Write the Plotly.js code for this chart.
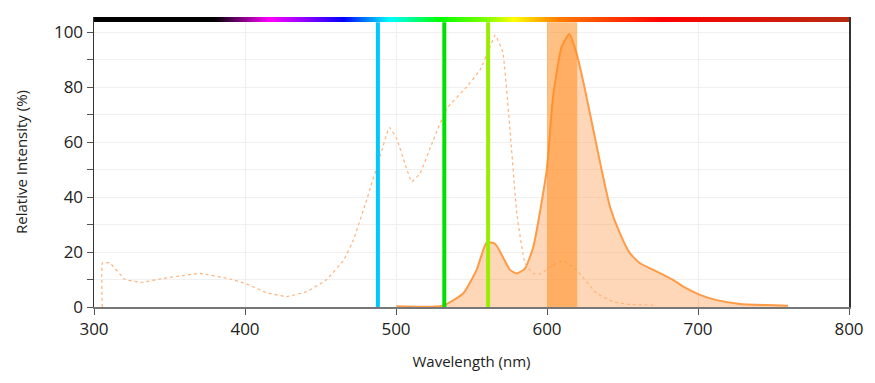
<!DOCTYPE html>
<html><head><meta charset="utf-8">
<script src="https://cdn.plot.ly/plotly-3.0.1.min.js"></script>
<style>html,body{margin:0;padding:0;background:#fff}#chart{width:875px;height:383px}</style>
</head><body><div id="chart"></div>
<script>
// Excitation spectrum (dotted)
const exWl = [305.5,305.6,310.6,320.5,331.5,345.9,370.2,390,401,414.4,427.6,440.9,454.1,465.2,471.8,480,489.4,495.6,500.4,510.4,515.9,524.7,533.6,546.8,555.6,562.3,565.6,570.7,575.5,580,585.4,591,595.4,604.2,610.8,619.6,632.8,643.9,655,670.4];
const exVal = [0,16.1,16,10,9,10.4,12.2,10.2,8.4,5.2,3.8,5.6,10,17,24.4,38,54.7,65.3,61.3,45.6,48.6,60.7,72.2,80.1,86.2,94.7,98.9,92.9,64.4,34,15.9,12.2,12,15.3,16.8,13.5,5,1.9,0.9,0.7];
// Emission spectrum (solid, filled)
const emWl = [500.4,531,544.6,553.4,560,565.6,575.5,580,585.4,591,599.8,604,609.7,614.8,619.6,625.2,636.2,641.7,648.3,655,661.6,670.4,683.7,690.3,701.3,712.4,727.8,745,759.6];
const emVal = [0.3,0.5,5,13.5,23.4,23,13.5,12.2,14,22,49.8,76.5,94.7,99.3,92.2,79,49.8,36.5,26.8,19.5,15.9,13.5,9.8,7.4,4.4,2.5,1.1,0.7,0.5];
// Laser lines
const laserWl = [488,532,561];
const laserColors = ['#00c8ff','#00e000','#99ee00'];
// Emission filter band
const filterBand = [600,620];
// Spectrum bar colour stops
const specStops = [300,380,416,441,465,496,529,560,578,606,640,677,800];
const specColors = ['#000000','#000000','#ff00ff','#8a00ff','#0000ff','#00ffff','#00ff00','#80ff00','#ffff00','#ff8000','#ff4000','#ff0000','#b52a10'];
const xTicks = [300,400,500,600,700,800];
const yTicks = [0,20,40,60,80,100];

const xRange = [300,800], yTop = 105.5, barBottom = 103.6;

const specX = [];
for (let w = xRange[0]; w <= xRange[1]; w += 1) specX.push(w);
const specZ = [specX.slice(0, -1).map(w => w + 0.5)];
const cscale = specStops.map((s,i)=>[(s-xRange[0])/(xRange[1]-xRange[0]), specColors[i]]);

const traces = [
  {type:'heatmap', x:specX, y:[barBottom, yTop], z:specZ, colorscale:cscale, zmin:xRange[0], zmax:xRange[1], showscale:false, hoverinfo:'skip'},
  {type:'scatter', mode:'lines', x:emWl, y:emVal, fill:'tozeroy', fillcolor:'rgba(252,150,70,0.38)', line:{color:'#ff9a45', width:2, shape:'spline', smoothing:0.5}, hoverinfo:'skip'},
  {type:'scatter', mode:'lines', x:exWl, y:exVal, line:{color:'#ffb27a', width:1.2, dash:'dot', shape:'spline', smoothing:0.3}, hoverinfo:'skip'}
];
laserWl.forEach((w,i)=>traces.push({type:'scatter', mode:'lines', x:[w,w], y:[0,barBottom], line:{color:laserColors[i], width:4}, hoverinfo:'skip'}));

const layout = {
  width:875, height:383,
  margin:{l:94, r:26, t:17, b:76},
  paper_bgcolor:'#fff', plot_bgcolor:'#fff',
  showlegend:false,
  font:{family:'"Open Sans", "Noto Sans", sans-serif', color:'#222', size:15},
  shapes:[{type:'rect', xref:'x', yref:'y', x0:filterBand[0], x1:filterBand[1], y0:0, y1:barBottom, fillcolor:'rgba(255,140,30,0.55)', line:{width:0}, layer:'above'}],
  xaxis:{range:xRange, tickvals:xTicks, ticks:'outside', ticklen:6, tickcolor:'#555', tickfont:{size:17}, showgrid:true, gridcolor:'#eeeeee', zeroline:false,
    showline:true, linecolor:'#777', linewidth:1.5,
    title:{text:'Wavelength (nm)', font:{size:15}, standoff:17}},
  yaxis:{range:[0,yTop], tickvals:yTicks, ticks:'outside', ticklen:6, tickcolor:'#555', tickfont:{size:17}, showgrid:true, gridcolor:'#f0f0f0', zeroline:false,
    minor:{dtick:10, ticks:'outside', ticklen:6, tickcolor:'#555', showgrid:true, gridcolor:'#f0f0f0'},
    showline:true, linecolor:'#333', linewidth:1.5, mirror:true,
    title:{text:'Relative Intensity (%)', font:{size:15}, standoff:22}}
};
Plotly.newPlot('chart', traces, layout, {staticPlot:true});
</script></body></html>
